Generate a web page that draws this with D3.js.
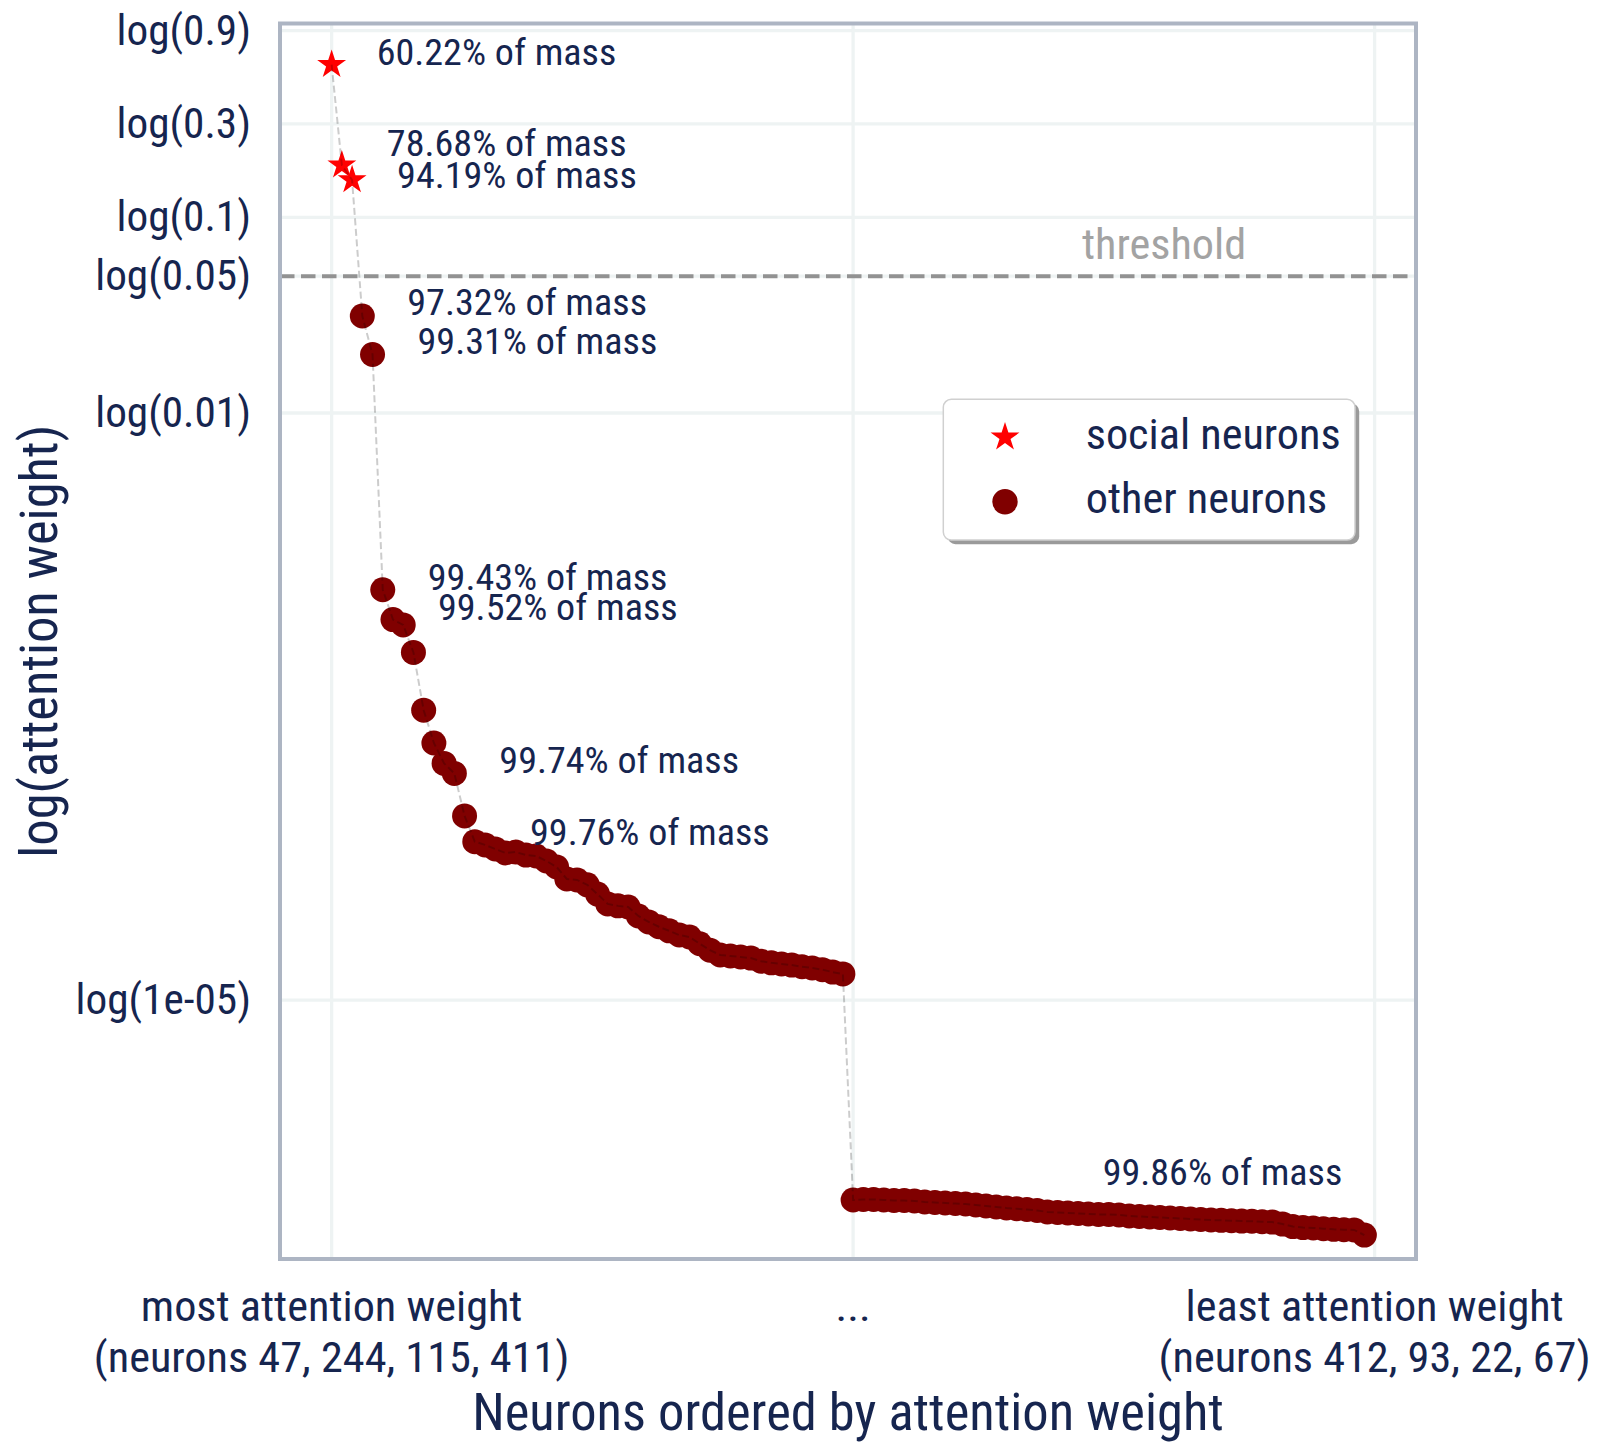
<!DOCTYPE html>
<meta charset="utf-8">
<head>
<style>
  body { margin: 0; background: #fff; }
  svg { display: block; }
</style>
</head>
<body>
<script src="https://d3js.org/d3.v7.min.js"></script>
<script>

// attention weight of the 51 strongest neurons (sorted, descending)
var topWeights = [
  0.6022, 0.1846, 0.1551, 0.0313, 0.0199, 0.00125, 0.00088, 8.26e-4, 5.98e-4, 3.03e-4,
  2.06e-4, 1.62e-4, 1.44e-4, 8.73e-5, 6.45e-5, 6.21e-5, 5.92e-5, 5.65e-5, 5.71e-5, 5.51e-5,
  5.45e-5, 5.14e-5, 4.79e-5, 4.16e-5, 4.11e-5, 3.88e-5, 3.48e-5, 3.10e-5, 3.03e-5, 2.99e-5,
  2.69e-5, 2.51e-5, 2.37e-5, 2.26e-5, 2.15e-5, 2.10e-5, 1.94e-5, 1.80e-5, 1.70e-5, 1.68e-5,
  1.66e-5, 1.64e-5, 1.58e-5, 1.55e-5, 1.53e-5, 1.51e-5, 1.48e-5, 1.46e-5, 1.43e-5, 1.39e-5,
  1.36e-5
];

// attention weight of the 51 weakest neurons
var bottomWeights = [
  9.52e-7, 9.57e-7, 9.57e-7, 9.52e-7, 9.46e-7, 9.46e-7, 9.41e-7, 9.30e-7, 9.24e-7, 9.19e-7,
  9.13e-7, 9.08e-7, 8.97e-7, 8.87e-7, 8.77e-7, 8.66e-7, 8.59e-7, 8.51e-7, 8.41e-7, 8.27e-7,
  8.22e-7, 8.17e-7, 8.12e-7, 8.07e-7, 8.03e-7, 8.03e-7, 7.98e-7, 7.89e-7, 7.84e-7, 7.79e-7,
  7.75e-7, 7.70e-7, 7.66e-7, 7.61e-7, 7.57e-7, 7.52e-7, 7.49e-7, 7.46e-7, 7.43e-7, 7.41e-7,
  7.37e-7, 7.34e-7, 7.17e-7, 6.96e-7, 6.88e-7, 6.85e-7, 6.79e-7, 6.74e-7, 6.71e-7, 6.69e-7,
  6.30e-7
];

var socialCount = 3;   // first neurons are the social ones

// cumulative mass annotations
var massIndex = [0, 1, 2, 3, 4, 5, 6, 12, 15, 101];
var massValue = [60.22, 78.68, 94.19, 97.32, 99.31, 99.43, 99.52, 99.74, 99.76, 99.86];

var yTicks = [0.9, 0.3, 0.1, 0.05, 0.01, 1e-5];
var yTickLabels = ["log(0.9)", "log(0.3)", "log(0.1)", "log(0.05)", "log(0.01)", "log(1e-05)"];
var xTicks = [0, 51, 102];
var xTickLabels = [
  ["most attention weight", "(neurons 47, 244, 115, 411)"],
  ["..."],
  ["least attention weight", "(neurons 412, 93, 22, 67)"]
];
var threshold = 0.05;
var legendLabels = ["social neurons", "other neurons"];

// ---------------------------------------------------------------

var W = 1604, H = 1455;
var plot = {left: 280, right: 1416, top: 23.5, bottom: 1259};
var ink = "#16254f";

// pick a condensed face if there is one, otherwise squeeze Roboto
var ctx = document.createElement("canvas").getContext("2d");
ctx.font = "40px 'Roboto Condensed', monospace";
var w1 = ctx.measureText("abcdefghij 0123").width;
ctx.font = "40px monospace";
var w2 = ctx.measureText("abcdefghij 0123").width;
var hasCond = Math.abs(w1 - w2) > 1;
var FONT = hasCond ? "'Roboto Condensed', Roboto, sans-serif" : "Roboto, sans-serif";
var SX = (hasCond ? 1 : 0.9) * 1.03;

var weights = topWeights.concat(bottomWeights);
var points = weights.map(function (w, i) {
  return {i: i, w: w, social: i < socialCount};
});

var x = d3.scaleLinear()
  .domain([-5.05, 106.05])
  .range([plot.left, plot.right]);

var y = d3.scaleLog()
  .domain([Math.pow(10, -6.323), Math.pow(10, -0.0097)])
  .range([plot.bottom, plot.top]);

var svg = d3.select("body").append("svg")
  .attr("width", W)
  .attr("height", H)
  .attr("font-family", FONT);

function label(g, px, py, txt, size, anchor, color) {
  return g.append("text")
    .attr("transform", "translate(" + px + "," + py + ") scale(" + SX + ",1)")
    .attr("text-anchor", anchor || "start")
    .attr("font-size", size)
    .attr("fill", color || ink)
    .text(txt);
}

// grid
var grid = svg.append("g");
grid.selectAll(".gy")
  .data(yTicks)
  .enter().append("line")
  .attr("x1", plot.left).attr("x2", plot.right)
  .attr("y1", function (d) { return y(d); })
  .attr("y2", function (d) { return y(d); })
  .attr("stroke", "#eef3f3")
  .attr("stroke-width", 3.3);
grid.selectAll(".gx")
  .data(xTicks)
  .enter().append("line")
  .attr("y1", plot.top).attr("y2", plot.bottom)
  .attr("x1", function (d) { return x(d); })
  .attr("x2", function (d) { return x(d); })
  .attr("stroke", "#eef3f3")
  .attr("stroke-width", 3.3);

// threshold
svg.append("line")
  .attr("x1", plot.left).attr("x2", plot.right)
  .attr("y1", y(threshold)).attr("y2", y(threshold))
  .attr("stroke", "#929292")
  .attr("stroke-width", 4)
  .attr("stroke-dasharray", "14.5,6.5");
label(svg, 1164, y(threshold) - 17, "threshold", 43, "middle", "#a3a3a3");

// markers
var others = points.filter(function (d) { return !d.social; });
var socials = points.filter(function (d) { return d.social; });

svg.selectAll(".dot")
  .data(others)
  .enter().append("circle")
  .attr("cx", function (d) { return x(d.i); })
  .attr("cy", function (d) { return y(d.w); })
  .attr("r", 12.5)
  .attr("fill", "#800000");

var star = d3.symbol().type(d3.symbolStar).size(259);
svg.selectAll(".star")
  .data(socials)
  .enter().append("path")
  .attr("d", star)
  .attr("transform", function (d) { return "translate(" + x(d.i) + "," + y(d.w) + ")"; })
  .attr("fill", "#ff0000");

// connecting line
var line = d3.line()
  .x(function (d) { return x(d.i); })
  .y(function (d) { return y(d.w); });
svg.append("path")
  .datum(points)
  .attr("d", line)
  .attr("fill", "none")
  .attr("stroke", "#000")
  .attr("stroke-opacity", 0.2)
  .attr("stroke-width", 2)
  .attr("stroke-dasharray", "7,3.5");

// annotations
var nudge = {1: -9, 2: 8, 3: -1, 4: -1};
massIndex.forEach(function (idx, k) {
  var p = points[idx];
  var txt = massValue[k].toFixed(2) + "% of mass";
  if (idx === points.length - 1) {
    label(svg, x(p.i) - 22, y(p.w) - 50, txt, 37, "end");
  } else {
    label(svg, x(p.i) + 45, y(p.w) + (nudge[idx] || 0), txt, 37, "start");
  }
});

// frame
svg.append("rect")
  .attr("x", plot.left).attr("y", plot.top)
  .attr("width", plot.right - plot.left)
  .attr("height", plot.bottom - plot.top)
  .attr("fill", "none")
  .attr("stroke", "#adb5c3")
  .attr("stroke-width", 4);

// y tick labels
yTicks.forEach(function (v, i) {
  label(svg, plot.left - 29, y(v) + 14, yTickLabels[i], 42, "end");
});

// x tick labels
xTicks.forEach(function (v, i) {
  xTickLabels[i].forEach(function (ln, j) {
    label(svg, x(v), 1321 + j * 50.7, ln, 43, "middle");
  });
});

// axis titles
label(svg, (plot.left + plot.right) / 2, 1430, "Neurons ordered by attention weight", 51, "middle");
svg.append("text")
  .attr("transform", "translate(57," + (plot.top + plot.bottom) / 2 + ") rotate(-90) scale(" + SX + ",1)")
  .attr("text-anchor", "middle")
  .attr("font-size", 51)
  .attr("fill", ink)
  .text("log(attention weight)");

// legend
var lg = svg.append("g");
lg.append("rect")
  .attr("x", 947.5).attr("y", 403.5)
  .attr("width", 411.7).attr("height", 140.7)
  .attr("rx", 8)
  .attr("fill", "#9a9a9a");
lg.append("rect")
  .attr("x", 943.3).attr("y", 399.3)
  .attr("width", 411.7).attr("height", 140.7)
  .attr("rx", 8)
  .attr("fill", "#fff")
  .attr("stroke", "#d0d0d0")
  .attr("stroke-width", 1.5);
lg.append("path")
  .attr("d", star())
  .attr("transform", "translate(1005,437.3)")
  .attr("fill", "#ff0000");
lg.append("circle")
  .attr("cx", 1005).attr("cy", 501.7)
  .attr("r", 12.7)
  .attr("fill", "#800000");
label(lg, 1085.7, 449.3, legendLabels[0], 43, "start");
label(lg, 1085.7, 513.3, legendLabels[1], 43, "start");

</script>
</body>
